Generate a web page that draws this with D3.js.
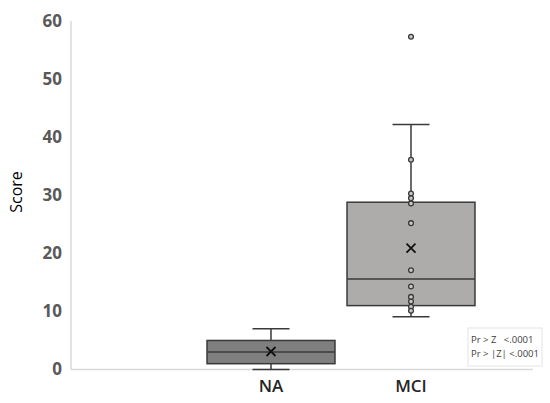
<!DOCTYPE html>
<html><head><meta charset="utf-8">
<script src="https://cdn.jsdelivr.net/npm/d3@7"></script>
<style>body{margin:0;background:#fff}svg{display:block}</style>
</head><body>
<script>
const categories = ["NA", "MCI"];
const whiskerLow = [0, 9.1];
const q1 = [1, 11.0];
const median = [3.0, 15.6];
const q3 = [5.0, 28.8];
const whiskerHigh = [7.0, 42.2];
const means = [3.1, 20.9];
const naPoints = [];
const mciPoints = [57.3, 36.1, 30.3, 29.5, 28.6, 25.2, 17.1, 14.3, 12.5, 11.7, 10.8, 10.1];
const yTicks = [0, 10, 20, 30, 40, 50, 60];
const statLines = ["Pr > Z   <.0001", "Pr > |Z| <.0001"];
const fills = ["#7f7f7f", "#aeabab"];

const W = 550, H = 403;
const svg = d3.select("body").append("svg").attr("width", W).attr("height", H);
const y = d3.scaleLinear().domain([0, 60]).range([369.5, 21]);
const x = d3.scaleBand().domain(categories).range([201, 481]).padding(0);

// axes
svg.append("line").attr("x1", 71).attr("x2", 71).attr("y1", y(60)).attr("y2", y(0)).attr("stroke", "#d9d9d9").attr("stroke-width", 1.5);
svg.append("line").attr("x1", 71).attr("x2", 533).attr("y1", y(0)).attr("y2", y(0)).attr("stroke", "#d9d9d9").attr("stroke-width", 1.5);

const yAxis = d3.axisLeft(y).tickValues(yTicks).tickSize(0).tickPadding(9);
const ga = svg.append("g").attr("transform", "translate(71,0)").call(yAxis);
ga.select(".domain").remove();
ga.selectAll("text").attr("font-family", "Open Sans, sans-serif").attr("font-weight", "bold").attr("font-size", 17).attr("fill", "#595959");

svg.append("text").attr("transform", "translate(22,192) rotate(-90)").attr("text-anchor", "middle")
  .attr("font-family", "Open Sans, sans-serif").attr("font-size", 16).attr("fill", "#000").text("Score");

// x labels
svg.selectAll(".xl").data(categories).enter().append("text")
  .attr("x", d => x(d) + x.bandwidth() / 2).attr("y", 392).attr("text-anchor", "middle")
  .attr("font-family", "Open Sans, sans-serif").attr("font-size", 17).attr("font-weight", 600).attr("fill", "#262626").text(d => d);

const stroke = "#3a3a3a";
categories.forEach((c, i) => {
  const cx = x(c) + x.bandwidth() / 2;
  const bw = x.bandwidth() * 0.914;
  const g = svg.append("g");
  g.append("line").attr("x1", cx).attr("x2", cx).attr("y1", y(whiskerHigh[i])).attr("y2", y(q3[i])).attr("stroke", stroke).attr("stroke-width", 1.5);
  g.append("line").attr("x1", cx).attr("x2", cx).attr("y1", y(q1[i])).attr("y2", y(whiskerLow[i])).attr("stroke", stroke).attr("stroke-width", 1.5);
  [whiskerHigh[i], whiskerLow[i]].forEach(v => {
    g.append("line").attr("x1", cx - 18.5).attr("x2", cx + 18.5).attr("y1", y(v)).attr("y2", y(v)).attr("stroke", stroke).attr("stroke-width", 1.5);
  });
  g.append("rect").attr("x", cx - bw / 2).attr("width", bw).attr("y", y(q3[i])).attr("height", y(q1[i]) - y(q3[i]))
    .attr("fill", fills[i]).attr("stroke", stroke).attr("stroke-width", 1.5);
  g.append("line").attr("x1", cx - bw / 2).attr("x2", cx + bw / 2).attr("y1", y(median[i])).attr("y2", y(median[i])).attr("stroke", stroke).attr("stroke-width", 1.5);
  const pts = i === 0 ? naPoints : mciPoints;
  g.selectAll("circle").data(pts).enter().append("circle").attr("cx", cx).attr("cy", d => y(d)).attr("r", 2.4)
    .attr("fill", "#c8c8c8").attr("stroke", "#3a3a3a").attr("stroke-width", 1.3);
  const m = y(means[i]), s = 4.5;
  g.append("path").attr("d", `M${cx - s},${m - s}L${cx + s},${m + s}M${cx - s},${m + s}L${cx + s},${m - s}`)
    .attr("stroke", "#111").attr("stroke-width", 1.8);
});

// stat box
const sb = svg.append("g");
sb.append("rect").attr("x", 468).attr("y", 328).attr("width", 74).attr("height", 38).attr("fill", "#fff").attr("stroke", "#e4e4e4").attr("stroke-width", 1);
sb.selectAll("text").data(statLines).enter().append("text").attr("x", 471).attr("y", (d, i) => 343 + i * 14)
  .attr("font-family", "Open Sans, sans-serif").attr("font-size", 9.5).attr("fill", "#404040").style("white-space", "pre").text(d => d);
</script>
</body></html>
